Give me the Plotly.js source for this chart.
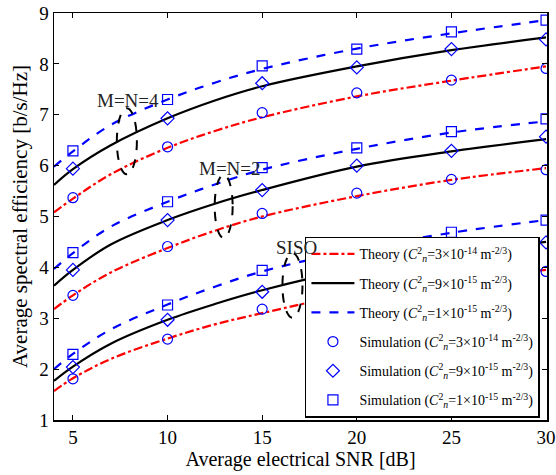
<!DOCTYPE html>
<html>
<head>
<meta charset="utf-8">
<script src="https://cdn.plot.ly/plotly-3.0.1.min.js"></script>
<style>html,body{margin:0;padding:0;background:#fff}</style>
</head>
<body>
<div id="chart" style="width:556px;height:475px"></div>
<script>
// Theory curve sample points (SNR in dB)
const theoryX = [4, 5, 7, 10, 12.5, 15, 20, 25, 30];
// Simulation SNR points
const simX = [5, 10, 15, 20, 25, 30];

// Theory values: [SISO, M=N=2, M=N=4]
const theoryRed = [
  [1.57, 1.82, 2.20, 2.60, 2.88, 3.10, 3.50, 3.75, 3.95],
  [3.18, 3.45, 3.90, 4.38, 4.72, 5.00, 5.40, 5.72, 5.95],
  [5.08, 5.35, 5.83, 6.35, 6.68, 6.95, 7.36, 7.67, 7.95]
];
const theoryBlack = [
  [1.77, 2.05, 2.50, 2.97, 3.28, 3.55, 3.98, 4.27, 4.50],
  [3.64, 3.95, 4.45, 4.93, 5.25, 5.52, 5.98, 6.28, 6.52],
  [5.62, 5.93, 6.40, 6.93, 7.28, 7.56, 7.95, 8.27, 8.52]
];
const theoryBlue = [
  [2.00, 2.30, 2.78, 3.27, 3.62, 3.92, 4.35, 4.68, 4.93],
  [3.97, 4.28, 4.80, 5.29, 5.63, 5.92, 6.33, 6.65, 6.87],
  [5.98, 6.28, 6.80, 7.30, 7.63, 7.90, 8.30, 8.60, 8.86]
];

// Simulation values: [SISO, M=N=2, M=N=4]
const simCircle = [
  [1.81, 2.59, 3.18, 3.55, 3.78, 3.92],
  [3.45, 4.41, 5.06, 5.46, 5.73, 5.92],
  [5.37, 6.37, 7.04, 7.43, 7.68, 7.91]
];
const simDiamond = [
  [2.04, 2.97, 3.52, 3.98, 4.27, 4.49],
  [3.95, 4.93, 5.52, 6.00, 6.29, 6.57],
  [5.94, 6.93, 7.62, 7.93, 8.29, 8.48]
];
const simSquare = [
  [2.29, 3.26, 3.94, 4.36, 4.69, 4.93],
  [4.29, 5.29, 5.96, 6.35, 6.67, 6.92],
  [6.29, 7.30, 7.96, 8.29, 8.63, 8.86]
];

const legendNames = [
  "Theory (<i>C</i><sup>2</sup><sub><i>n</i></sub>=3×10<sup>-14</sup> m<sup>-2/3</sup>)",
  "Theory (<i>C</i><sup>2</sup><sub><i>n</i></sub>=9×10<sup>-15</sup> m<sup>-2/3</sup>)",
  "Theory (<i>C</i><sup>2</sup><sub><i>n</i></sub>=1×10<sup>-15</sup> m<sup>-2/3</sup>)",
  "Simulation (<i>C</i><sup>2</sup><sub><i>n</i></sub>=3×10<sup>-14</sup> m<sup>-2/3</sup>)",
  "Simulation (<i>C</i><sup>2</sup><sub><i>n</i></sub>=9×10<sup>-15</sup> m<sup>-2/3</sup>)",
  "Simulation (<i>C</i><sup>2</sup><sub><i>n</i></sub>=1×10<sup>-15</sup> m<sup>-2/3</sup>)"
];

const groupLabels = ["SISO", "M=N=2", "M=N=4"];
const labelX = [16.8, 13.3, 7.9];
const labelY = [4.40, 5.95, 7.29];
const ellipseX0 = [16.07, 12.49, 7.32];
const ellipseX1 = [17.13, 13.44, 8.38];
const ellipseY0 = [3.01, 4.58, 5.83];
const ellipseY1 = [4.28, 5.82, 7.13];

const traces = [];
const lineSpecs = [
  {data: theoryRed, color: "#ff0000", dash: "dashdot", name: legendNames[0], g: "tr"},
  {data: theoryBlack, color: "#000000", dash: "solid", name: legendNames[1], g: "tk"},
  {data: theoryBlue, color: "#0000ff", dash: "dash", name: legendNames[2], g: "tb"}
];
const markSpecs = [
  {data: simCircle, symbol: "circle-open", name: legendNames[3], g: "sc"},
  {data: simDiamond, symbol: "diamond-open", name: legendNames[4], g: "sd"},
  {data: simSquare, symbol: "square-open", name: legendNames[5], g: "ss"}
];
lineSpecs.forEach(s => {
  s.data.forEach((ys, i) => {
    traces.push({
      x: theoryX, y: ys, type: "scatter", mode: "lines",
      line: {color: s.color, dash: s.dash, width: 2.2, shape: "spline", smoothing: 1},
      name: s.name, legendgroup: s.g, showlegend: i === 0
    });
  });
});
markSpecs.forEach(s => {
  s.data.forEach((ys, i) => {
    traces.push({
      x: simX, y: ys, type: "scatter", mode: "markers",
      marker: {symbol: s.symbol, size: 10, color: "#0000ff", line: {width: 1.2, color: "#0000ff"}},
      name: s.name, legendgroup: s.g, showlegend: i === 0
    });
  });
});

const annotations = groupLabels.map((t, i) => ({
  x: labelX[i], y: labelY[i], xref: "x", yref: "y", text: t, showarrow: false,
  font: {family: "Liberation Serif", size: 19, color: "#222"}
}));
const shapes = groupLabels.map((t, i) => ({
  type: "circle", xref: "x", yref: "y",
  x0: ellipseX0[i], x1: ellipseX1[i], y0: ellipseY0[i], y1: ellipseY1[i],
  line: {color: "#000", width: 2, dash: "dash"}
}));

const layout = {
  width: 556, height: 475,
  margin: {l: 54, r: 9, t: 13, b: 55},
  paper_bgcolor: "#fff", plot_bgcolor: "#fff",
  font: {family: "Liberation Serif", color: "#000"},
  showlegend: true,
  legend: {
    x: 0.509, y: 0.45, xanchor: "left", yanchor: "top",
    bgcolor: "#fff", bordercolor: "#000", borderwidth: 1.5,
    font: {family: "Liberation Serif", size: 14, color: "#000"},
    tracegroupgap: 8, traceorder: "grouped", itemwidth: 43
  },
  xaxis: {
    range: [4, 30.05], tickvals: [5, 10, 15, 20, 25, 30],
    ticks: "inside", ticklen: 5, tickcolor: "#000", mirror: "ticks",
    showline: true, linecolor: "#000", linewidth: 1.5, showgrid: false, zeroline: false,
    tickfont: {family: "Liberation Serif", size: 19},
    title: {text: "Average electrical SNR [dB]", font: {family: "Liberation Serif", size: 20}, standoff: 0}
  },
  yaxis: {
    range: [1, 9], dtick: 1,
    ticks: "inside", ticklen: 5, tickcolor: "#000", mirror: "ticks",
    showline: true, linecolor: "#000", linewidth: 1.5, showgrid: false, zeroline: false,
    tickfont: {family: "Liberation Serif", size: 19},
    title: {text: "Average spectral efficiency [b/s/Hz]", font: {family: "Liberation Serif", size: 21}, standoff: 6}
  },
  annotations: annotations,
  shapes: shapes
};

Plotly.newPlot("chart", traces, layout, {displayModeBar: false, staticPlot: true});
</script>
</body>
</html>
